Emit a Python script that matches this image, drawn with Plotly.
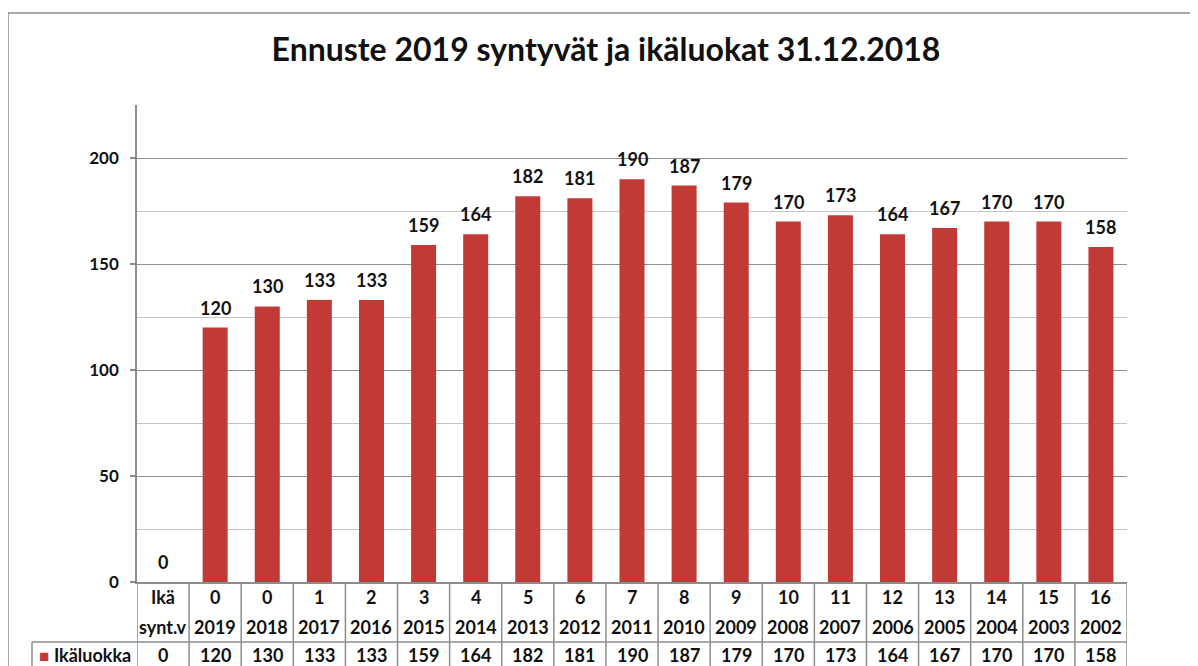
import plotly.graph_objects as go

title = "Ennuste 2019 syntyvät ja ikäluokat 31.12.2018"
ages = ["Ikä", "0", "0", "1", "2", "3", "4", "5", "6", "7", "8", "9", "10", "11", "12", "13", "14", "15", "16"]
years = ["synt.v", "2019", "2018", "2017", "2016", "2015", "2014", "2013", "2012", "2011", "2010",
         "2009", "2008", "2007", "2006", "2005", "2004", "2003", "2002"]
values = [0, 120, 130, 133, 133, 159, 164, 182, 181, 190, 187, 179, 170, 173, 164, 167, 170, 170, 158]
series_name = "Ikäluokka"

FONT = "Lato"
BAR = "#c23a36"
LINE = "#8c8c8c"
OFF = 8  # page body margin

x = list(range(len(values)))
fig = go.Figure()
fig.add_trace(go.Bar(
    x=x, y=values, marker=dict(color=BAR, line=dict(width=0)),
    name=series_name, showlegend=False, hoverinfo="x+y",
))

W, H = 1198 - OFF, 666 - OFF
L, R, T, B = 137 - OFF, 71, 105 - OFF, 84
ph = H - T - B
pw = W - L - R


def py(pix):
    return (H - B - (pix - OFF)) / ph


def px(pix):
    return (pix - OFF - L) / pw


shapes = []
# outer chart border
shapes.append(dict(type="rect", xref="paper", yref="paper", x0=px(8), x1=px(1215),
                   y0=py(13), y1=py(700), line=dict(color="#8a8a8a", width=1.5), layer="below"))
# table vertical lines
for i in range(len(values) + 1):
    shapes.append(dict(type="line", xref="x", yref="paper", x0=i - 0.5, x1=i - 0.5,
                       y0=0, y1=py(700), line=dict(color=LINE, width=1.5)))
# row separator
shapes.append(dict(type="line", xref="paper", yref="paper", x0=px(32), x1=1,
                   y0=py(642), y1=py(642), line=dict(color=LINE, width=1.5)))
# left label cell border
shapes.append(dict(type="line", xref="paper", yref="paper", x0=px(32), x1=px(32),
                   y0=py(642), y1=py(700), line=dict(color=LINE, width=1.5)))

ann = []
tf = dict(family=FONT, size=18, color="#111")
for i in x:
    ann.append(dict(x=i, y=values[i], xref="x", yref="y", yanchor="bottom", yshift=7,
                    text=f"<b>{values[i]}</b>", showarrow=False, font=tf))
    ann.append(dict(x=i, y=py(597), xref="x", yref="paper", yanchor="middle", text=f"<b>{ages[i]}</b>",
                    showarrow=False, font=tf))
    ann.append(dict(x=i, y=py(627), xref="x", yref="paper", yanchor="middle", text=f"<b>{years[i]}</b>",
                    showarrow=False, font=tf))
    ann.append(dict(x=i, y=py(655), xref="x", yref="paper", yanchor="middle", text=f"<b>{values[i]}</b>",
                    showarrow=False, font=tf))
ann.append(dict(x=px(37), y=py(655), xref="paper", yref="paper", xanchor="left", yanchor="middle",
                text=f"<span style='color:{BAR};font-size:17px'>■</span> <b>{series_name}</b>",
                showarrow=False, font=tf))

fig.update_layout(
    width=W, height=H,
    margin=dict(l=L, r=R, t=T, b=B, autoexpand=False),
    paper_bgcolor="white", plot_bgcolor="white",
    title=dict(text=f"<b>{title}</b>", x=(606 - OFF) / W, xanchor="center", y=1 - (50 - OFF) / H,
               yanchor="middle", font=dict(family=FONT, size=32, color="#111")),
    bargap=0.52,
    xaxis=dict(range=[-0.5, len(values) - 0.5], showticklabels=False, showgrid=False, automargin=False,
               showline=True, linecolor=LINE, linewidth=1.5, ticks="", zeroline=False, fixedrange=True),
    yaxis=dict(range=[0, 225], dtick=50, tick0=0, showgrid=True, gridcolor="#8f8f8f", gridwidth=1.2,
               minor=dict(dtick=25, showgrid=True, gridcolor="#c4c4c4", gridwidth=1.2, ticks=""),
               showline=True, linecolor=LINE, linewidth=1.5, ticks="outside", ticklen=5,
               tickcolor=LINE, tickwidth=1.5, ticklabelstandoff=8, automargin=False,
               tickprefix="<b>", ticksuffix="</b>",
               tickfont=dict(family=FONT, size=17, color="#111"), zeroline=False),
    shapes=shapes, annotations=ann,
    font=dict(family=FONT),
)
fig.write_html("out.html")
